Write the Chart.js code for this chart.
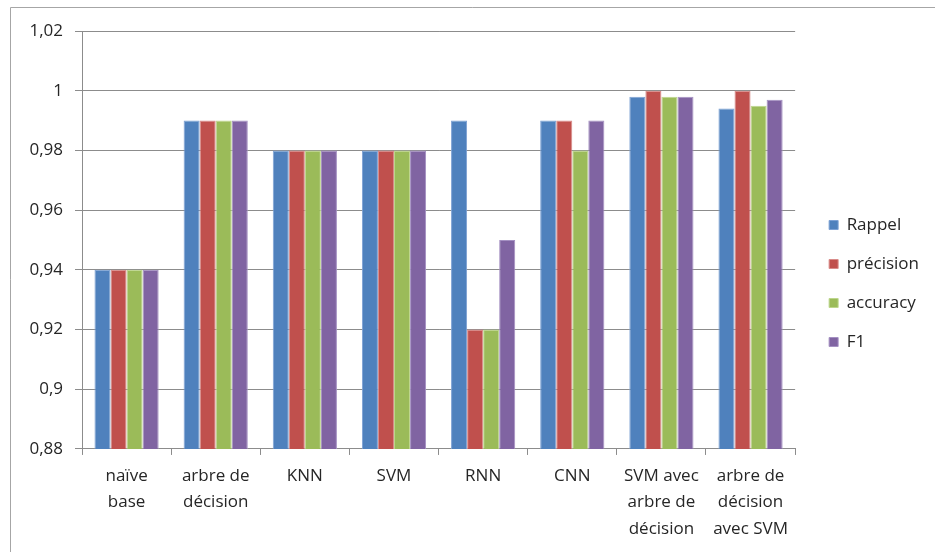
<!DOCTYPE html>
<html>
<head>
<meta charset="utf-8">
<script src="https://cdn.jsdelivr.net/npm/chart.js@4.4.0/dist/chart.umd.min.js"></script>
<style>
    html, body { margin: 0; padding: 0; background: #fff; }
    #wrap { width: 935px; height: 552px; position: relative; }
</style>
</head>
<body>
<div id="wrap"><canvas id="scoreChart"></canvas></div>
<script>
        const categories = [
            ['naïve', 'base'],
            ['arbre de', 'décision'],
            'KNN',
            'SVM',
            'RNN',
            'CNN',
            ['SVM avec', 'arbre de', 'décision'],
            ['arbre de', 'décision', 'avec SVM']
        ];
        const rappel    = [0.94, 0.99, 0.98, 0.98, 0.99, 0.99, 0.998, 0.994];
        const precision = [0.94, 0.99, 0.98, 0.98, 0.92, 0.99, 1.0, 1.0];
        const accuracy  = [0.94, 0.99, 0.98, 0.98, 0.92, 0.98, 0.998, 0.995];
        const f1        = [0.94, 0.99, 0.98, 0.98, 0.95, 0.99, 0.998, 0.997];
        const yTicks = [0.88, 0.9, 0.92, 0.94, 0.96, 0.98, 1, 1.02];

        const seriesNames = ['Rappel', 'précision', 'accuracy', 'F1'];
        const seriesColors = ['#4F81BD', '#C0504D', '#9BBB59', '#8064A2'];
        const edgeColors = ['#7DA1D4', '#D98C8A', '#BDD68C', '#A490C2'];
        const seriesData = [rappel, precision, accuracy, f1];

        const fontFamily = '"Open Sans", sans-serif';

        // outer frame like the office chart border (only left/top visible)
        const framePlugin = {
            id: 'frame',
            beforeDraw(chart) {
                const ctx = chart.ctx;
                ctx.save();
                ctx.fillStyle = '#fff';
                ctx.fillRect(0, 0, chart.width, chart.height);
                ctx.strokeStyle = '#A6A6A6';
                ctx.lineWidth = 1;
                ctx.beginPath();
                ctx.moveTo(10.5, chart.height);
                ctx.lineTo(10.5, 7.5);
                ctx.lineTo(chart.width, 7.5);
                ctx.stroke();
                ctx.restore();
            }
        };

        // leave a wider gap between plot and legend
        const legendShift = {
            id: 'legendShift',
            afterLayout(chart) {
                const lg = chart.legend;
                if (!lg) return;
                lg.left += 12;
                lg.right += 12;
                lg.top -= 7;
                lg.bottom -= 7;
            }
        };

        const fmt = v => String(Math.round(v * 100) / 100).replace('.', ',');

        new Chart(document.getElementById('scoreChart'), {
            type: 'bar',
            data: {
                labels: categories,
                datasets: seriesNames.map((name, i) => ({
                    label: name,
                    data: seriesData[i],
                    backgroundColor: seriesColors[i],
                    borderColor: edgeColors[i],
                    borderWidth: 1,
                    categoryPercentage: 0.72,
                    barPercentage: 1.0
                }))
            },
            options: {
                responsive: true,
                maintainAspectRatio: false,
                animation: false,
                layout: {
                    padding: { top: 31, left: 20, right: 18, bottom: 2 }
                },
                plugins: {
                    legend: {
                        position: 'right',
                        labels: {
                            boxWidth: 9,
                            boxHeight: 9,
                            padding: 22,
                            color: '#262626',
                            font: { family: fontFamily, size: 17 }
                        }
                    },
                    tooltip: { enabled: false }
                },
                scales: {
                    y: {
                        min: 0.88,
                        max: 1.02,
                        afterBuildTicks: scale => {
                            scale.ticks = yTicks.map(v => ({ value: v }));
                        },
                        afterFit: scale => { scale.width = 62; },
                        ticks: {
                            color: '#262626',
                            padding: 12,
                            font: { family: fontFamily, size: 17 },
                            callback: v => fmt(v)
                        },
                        grid: {
                            color: '#8C8C8C',
                            tickLength: 7
                        },
                        border: { color: '#8C8C8C' }
                    },
                    x: {
                        ticks: {
                            color: '#262626',
                            padding: 8,
                            maxRotation: 0,
                            autoSkip: false,
                            font: { family: fontFamily, size: 17, lineHeight: 1.55 }
                        },
                        grid: {
                            drawOnChartArea: false,
                            color: '#8C8C8C',
                            tickLength: 6
                        },
                        border: { color: '#8C8C8C' }
                    }
                }
            },
            plugins: [framePlugin, legendShift]
        });
</script>
</body>
</html>
